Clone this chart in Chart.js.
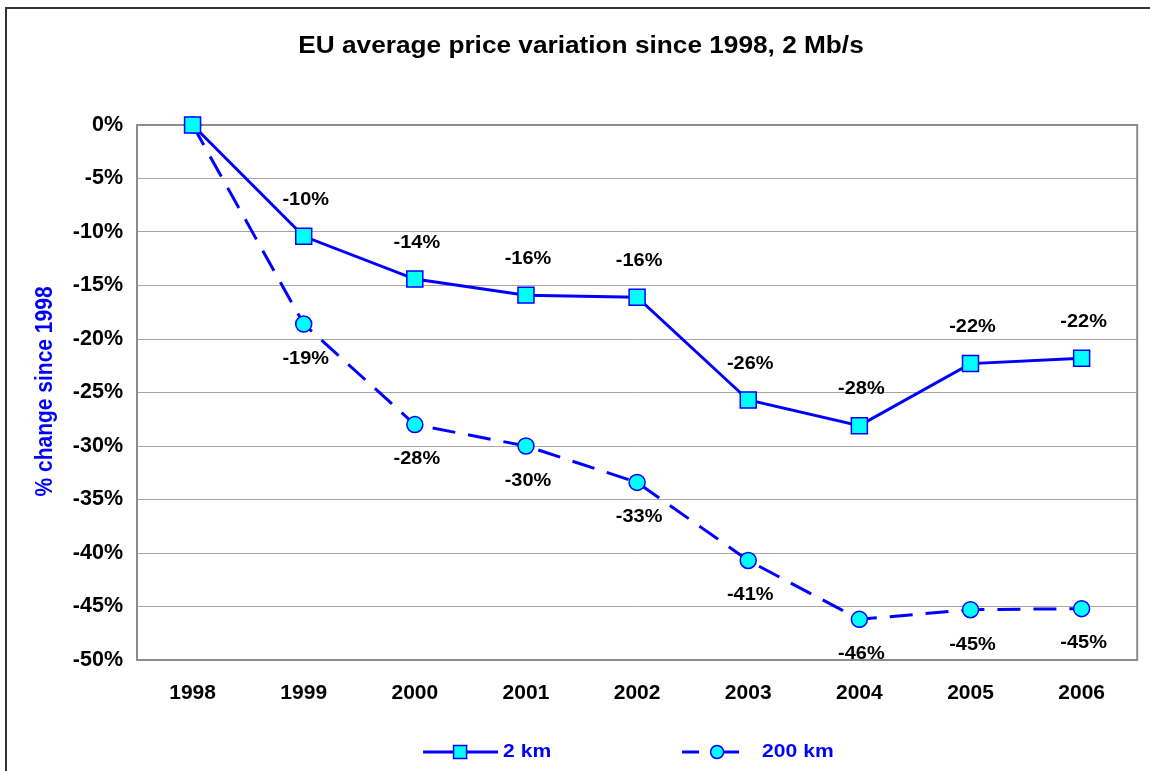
<!DOCTYPE html>
<html>
<head>
<meta charset="utf-8">
<script src="https://cdn.jsdelivr.net/npm/chart.js@4"></script>
<style>
  html, body { margin: 0; padding: 0; background: #fff; }
</style>
</head>
<body>
<canvas id="priceChart" width="1150" height="771"></canvas>
<script>
const years = ['1998', '1999', '2000', '2001', '2002', '2003', '2004', '2005', '2006'];
const km2 = [0, -10.4, -14.4, -15.9, -16.1, -25.7, -28.1, -22.3, -21.8];
const km200 = [0, -18.6, -28.0, -30.0, -33.4, -40.7, -46.2, -45.3, -45.2];
const seriesNames = ['2 km', '200 km'];
const chartTitle = 'EU average price variation since 1998, 2 Mb/s';
const axisTitle = '% change since 1998';

const FONT = '"Liberation Sans", Arial, sans-serif';
const BLUE = '#0000ff';
const CYAN = '#00ffff';
const STRETCH = 1.14; // text is a bit wider than plain Arial

function drawMarker(ctx, style, x, y, r) {
    ctx.save();
    ctx.fillStyle = CYAN;
    ctx.strokeStyle = BLUE;
    ctx.lineWidth = 1.5;
    ctx.beginPath();
    if (style == 'rect') ctx.rect(x - r, y - r, 2 * r, 2 * r);
    else ctx.arc(x, y, r, 0, Math.PI * 2);
    ctx.fill();
    ctx.stroke();
    ctx.restore();
}

function wideText(ctx, text, x, y) {
    ctx.save();
    ctx.translate(x, y);
    ctx.scale(STRETCH, 1);
    ctx.fillText(text, 0, 0);
    ctx.restore();
}

const decorations = {
    id: 'decorations',
    beforeDatasetsDraw: (chart) => {
        // grey plot frame
        const a = chart.chartArea, ctx = chart.ctx;
        ctx.save();
        ctx.strokeStyle = '#8c8c8c';
        ctx.lineWidth = 2;
        ctx.strokeRect(a.left, a.top, a.right - a.left, a.bottom - a.top);
        ctx.restore();
    },
    afterDatasetsDraw: (chart) => {
        const ctx = chart.ctx;
        ctx.save();
        ctx.font = 'bold 17.5px ' + FONT;
        ctx.fillStyle = '#000';
        ctx.textAlign = 'center';
        ctx.textBaseline = 'middle';
        chart.data.datasets.forEach((ds, d) => {
            const meta = chart.getDatasetMeta(d);
            meta.data.forEach((pt, i) => {
                if (i == 0) return;
                const dy = d == 0 ? -36 : 35;
                wideText(ctx, Math.round(ds.data[i]) + '%', pt.x + 2, pt.y + dy);
            });
        });
        ctx.restore();
    },
    afterDraw: (chart) => {
        const ctx = chart.ctx, a = chart.chartArea;
        ctx.save();
        // outer frame (top and left edges)
        ctx.strokeStyle = '#333';
        ctx.lineWidth = 2;
        ctx.beginPath();
        ctx.moveTo(6, chart.height);
        ctx.lineTo(6, 8);
        ctx.lineTo(chart.width, 8);
        ctx.stroke();

        // title
        ctx.fillStyle = '#000';
        ctx.font = 'bold 23px ' + FONT;
        ctx.textAlign = 'center';
        ctx.textBaseline = 'middle';
        wideText(ctx, chartTitle, 581, 47);

        // y axis title
        ctx.save();
        ctx.translate(45, (a.top + a.bottom) / 2 - 1);
        ctx.scale(STRETCH, 1);
        ctx.rotate(-Math.PI / 2);
        ctx.fillStyle = BLUE;
        ctx.font = 'bold 21px ' + FONT;
        ctx.fillText(axisTitle, 0, 0);
        ctx.restore();

        // legend
        const cx = (a.left + a.right) / 2, ly = 752;
        ctx.strokeStyle = BLUE;
        ctx.lineWidth = 3;
        ctx.beginPath();
        ctx.moveTo(cx - 214, ly);
        ctx.lineTo(cx - 139, ly);
        ctx.stroke();
        drawMarker(ctx, 'rect', cx - 177, ly, 6.5);

        ctx.beginPath();
        ctx.setLineDash([17, 23]);
        ctx.moveTo(cx + 45, ly);
        ctx.lineTo(cx + 110, ly);
        ctx.stroke();
        ctx.setLineDash([]);
        drawMarker(ctx, 'circle', cx + 80, ly, 6.5);

        ctx.fillStyle = BLUE;
        ctx.font = 'bold 18.5px ' + FONT;
        ctx.textAlign = 'left';
        wideText(ctx, seriesNames[0], cx - 134, ly);
        wideText(ctx, seriesNames[1], cx + 125, ly);
        ctx.restore();
    }
};

new Chart(document.getElementById('priceChart'), {
    type: 'line',
    data: {
        labels: years,
        datasets: [{
            label: seriesNames[0],
            data: km2,
            borderColor: BLUE,
            borderWidth: 3,
            pointStyle: 'rect',
            pointRadius: 11.3,
            pointBackgroundColor: CYAN,
            pointBorderColor: BLUE,
            pointBorderWidth: 1.5,
            tension: 0,
            clip: false
        }, {
            label: seriesNames[1],
            data: km200,
            borderColor: BLUE,
            borderWidth: 3,
            borderDash: [23, 13],
            pointStyle: 'circle',
            pointRadius: 8,
            pointBackgroundColor: CYAN,
            pointBorderColor: BLUE,
            pointBorderWidth: 1.5,
            tension: 0,
            clip: false
        }]
    },
    options: {
        responsive: false,
        animation: false,
        layout: { padding: { top: 125, right: 11, left: 0, bottom: 0 } },
        plugins: {
            legend: { display: false },
            title: { display: false },
            tooltip: { enabled: false }
        },
        scales: {
            x: {
                offset: true,
                grid: { display: false, drawTicks: false },
                border: { display: false },
                ticks: {
                    color: '#000',
                    font: { family: FONT, size: 21, weight: 'bold' },
                    padding: 21
                },
                afterFit: (scale) => { scale.height = 111; }
            },
            y: {
                min: -50,
                max: 0,
                grid: { color: '#a6a6a6', lineWidth: 1, drawTicks: false },
                border: { display: false },
                ticks: {
                    stepSize: 5,
                    color: '#000',
                    padding: 14,
                    font: { family: FONT, size: 21.5, weight: 'bold' },
                    callback: (v) => v + '%'
                },
                afterFit: (scale) => { scale.width = 137; }
            }
        }
    },
    plugins: [decorations]
});
</script>
</body>
</html>
